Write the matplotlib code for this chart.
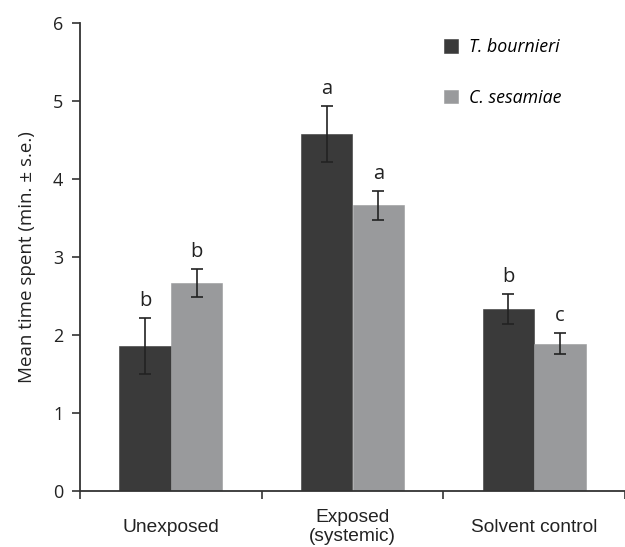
import matplotlib
matplotlib.use("Agg")
import matplotlib.pyplot as plt
import numpy as np

categories = ["Unexposed", "Exposed\n(systemic)", "Solvent control"]
series_names = ["T. bournieri", "C. sesamiae"]
tb_means = [1.86, 4.58, 2.33]
tb_se = [0.36, 0.36, 0.19]
cs_means = [2.67, 3.66, 1.89]
cs_se = [0.18, 0.19, 0.13]
tb_letters = ["b", "a", "b"]
cs_letters = ["b", "a", "c"]
y_ticks = [0, 1, 2, 3, 4, 5, 6]

dark = "#3a3a3a"
light = "#999a9c"

fig = plt.figure(figsize=(6.25, 5.47), dpi=100)
ax = fig.add_axes([0.128, 0.1024, 0.872, 0.8556])

x = np.arange(len(categories))
w = 0.283
err_kw = dict(ecolor="#222222", elinewidth=1.2, capsize=4, capthick=1.2)
ax.bar(x - w / 2, tb_means, w, yerr=tb_se, color=dark, edgecolor=dark, linewidth=0.4,
       label=series_names[0], error_kw=err_kw)
ax.bar(x + w / 2, cs_means, w, yerr=cs_se, color=light, edgecolor=light, linewidth=0.4,
       label=series_names[1], error_kw=err_kw)

for xi, m, s, t in zip(x - w / 2, tb_means, tb_se, tb_letters):
    ax.annotate(t, (xi, m + s), xytext=(0, 5), textcoords="offset points",
                ha="center", va="bottom", fontsize=14.5, family="Open Sans", color="#222222")
for xi, m, s, t in zip(x + w / 2, cs_means, cs_se, cs_letters):
    ax.annotate(t, (xi, m + s), xytext=(0, 5), textcoords="offset points",
                ha="center", va="bottom", fontsize=14.5, family="Open Sans", color="#222222")

ax.set_xlim(-0.5, 2.5)
ax.set_ylim(0, 6)
ax.set_yticks(y_ticks)
ax.set_yticklabels([str(v) for v in y_ticks], fontsize=13, family="Open Sans", color="#222222")
ax.set_xticks(x)
ax.set_xticklabels(categories, fontsize=13.8, family="Liberation Sans", color="#222222",
                   va="center", linespacing=1.2)
ax.set_xticks([-0.5, 0.5, 1.5, 2.5], minor=True)
ax.tick_params(axis="x", which="major", length=0, pad=26)
ax.tick_params(axis="x", which="minor", length=6, width=1.2, color="#333333", direction="out")
ax.tick_params(axis="y", length=6, width=1.2, color="#333333", direction="out", pad=6)

for sp in ["top", "right"]:
    ax.spines[sp].set_visible(False)
for sp in ["left", "bottom"]:
    ax.spines[sp].set_linewidth(1.3)
    ax.spines[sp].set_color("#333333")

ax.set_ylabel("Mean time spent (min. ± s.e.)", fontsize=13.5, family="Open Sans", color="#222222", labelpad=12)

ax.legend(loc="upper left", bbox_to_anchor=(0.668, 0.968), frameon=False,
          prop={"family": "Open Sans", "style": "italic", "size": 12.8},
          handlelength=0.8, handleheight=0.8, labelspacing=1.85, handletextpad=0.6,
          borderpad=0, borderaxespad=0)

fig.savefig("out.png", dpi=100)
